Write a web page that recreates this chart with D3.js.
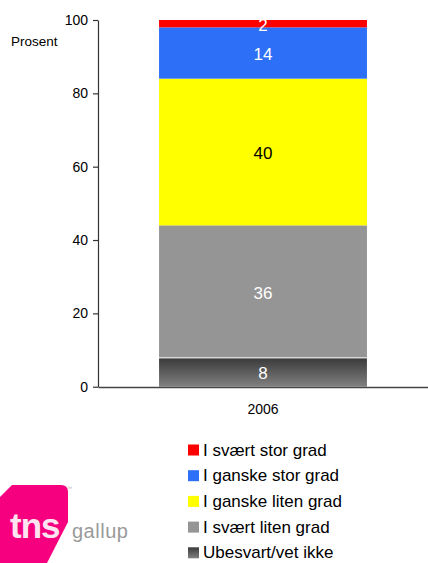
<!DOCTYPE html>
<html>
<head>
<meta charset="utf-8">
<script src="https://cdn.jsdelivr.net/npm/d3@7/dist/d3.min.js"></script>
<style>
  html, body { margin: 0; padding: 0; background: #fff; overflow: hidden; }
  svg { display: block; font-family: "Liberation Sans", Arial, sans-serif; }
</style>
</head>
<body>
<svg id="chart" width="428" height="563"></svg>
<script>
// ---- data ----
const categories = ["2006"];
const seriesNames = ["Ubesvart/vet ikke", "I svært liten grad", "I ganske liten grad", "I ganske stor grad", "I svært stor grad"];
const seriesValues = [8, 36, 40, 14, 2]; // bottom to top, year 2006
const seriesColors = ["url(#darkGrad)", "#959595", "#ffff00", "#2d6ff7", "#ff0000"];
const labelColors = ["#ffffff", "#ffffff", "#000000", "#ffffff", "#ffffff"];
const yTicks = [0, 20, 40, 60, 80, 100];
const legendOrder = [4, 3, 2, 1, 0];

const svg = d3.select("#chart");

const defs = svg.append("defs");
const grad = defs.append("linearGradient").attr("id", "darkGrad")
  .attr("x1", 0).attr("y1", 0).attr("x2", 0).attr("y2", 1);
grad.append("stop").attr("offset", "0%").attr("stop-color", "#3b3b3b");
grad.append("stop").attr("offset", "100%").attr("stop-color", "#808080");

const y = d3.scaleLinear().domain([0, 100]).range([386.7, 20]);
const x = d3.scaleBand().domain(categories).range([98, 428]).paddingInner(0.37).paddingOuter(0.185);

// stacked
const stackData = [];
let acc = 0;
seriesValues.forEach((v, i) => { stackData.push({ i, y0: acc, y1: acc + v, v }); acc += v; });

const cat = categories[0];
const bars = svg.append("g");
bars.selectAll("rect").data(stackData).enter().append("rect")
  .attr("x", x(cat))
  .attr("width", x.bandwidth())
  .attr("y", d => y(d.y1) + (d.i === 0 ? 1 : 0))
  .attr("height", d => y(d.y0) - y(d.y1) - (d.i === 0 ? 1 : 0))
  .attr("fill", d => seriesColors[d.i]);

bars.selectAll("text").data(stackData).enter().append("text")
  .attr("x", x(cat) + x.bandwidth() / 2)
  .attr("y", d => (y(d.y0) + y(d.y1)) / 2 + 1.5)
  .attr("dy", "0.35em")
  .attr("text-anchor", "middle")
  .attr("font-size", 17)
  .attr("fill", d => labelColors[d.i])
  .text(d => d.v);

// y axis
const yAxis = svg.append("g").attr("transform", "translate(98,0)")
  .call(d3.axisLeft(y).tickValues(yTicks).tickSize(5).tickSizeOuter(0).tickPadding(5));
yAxis.select(".domain").attr("stroke", "#333").attr("stroke-width", 1.2);
yAxis.selectAll(".tick line").attr("stroke", "#333").attr("stroke-width", 1.2);
yAxis.selectAll(".tick text").attr("font-size", 14).attr("fill", "#000")
  .attr("font-family", "'Liberation Sans', Arial, sans-serif");

// x axis
const xAxis = svg.append("g").attr("transform", "translate(0,387)")
  .call(d3.axisBottom(x).tickSize(0).tickSizeOuter(0).tickPadding(17));
xAxis.select(".domain").attr("stroke", "#444").attr("stroke-width", 1.5);
xAxis.selectAll(".tick text").attr("font-size", 14).attr("fill", "#000")
  .attr("font-family", "'Liberation Sans', Arial, sans-serif");

svg.append("text").attr("x", 11).attr("y", 46).attr("font-size", 13.5).attr("fill", "#000").text("Prosent");

// legend
const legend = svg.append("g");
legendOrder.forEach((si, k) => {
  const by = 455.5 + k * 25.7;
  legend.append("rect").attr("x", 188).attr("y", by - 11).attr("width", 11).attr("height", 11)
    .attr("fill", seriesColors[si]);
  legend.append("text").attr("x", 203).attr("y", by).attr("font-size", 17).attr("fill", "#000")
    .text(seriesNames[si]);
});

// logo
const logo = svg.append("g");
logo.append("path")
  .attr("d", "M12,485 L61,485 Q68,485 68,492 L68,522 L47,563 L0,563 L0,497 Z")
  .attr("fill", "#f7007f");
logo.append("text").attr("x", 10).attr("y", 538).attr("font-size", 35).attr("font-weight", "bold")
  .attr("letter-spacing", -1).attr("fill", "#fde4f1").text("tns");
logo.append("text").attr("x", 72).attr("y", 538).attr("font-size", 20).attr("fill", "#9a9a9a")
  .attr("letter-spacing", 0.5).text("gallup");
logo.append("text").attr("x", 67).attr("y", 490).attr("font-size", 5).attr("fill", "#aaa").text("™");
</script>
</body>
</html>
